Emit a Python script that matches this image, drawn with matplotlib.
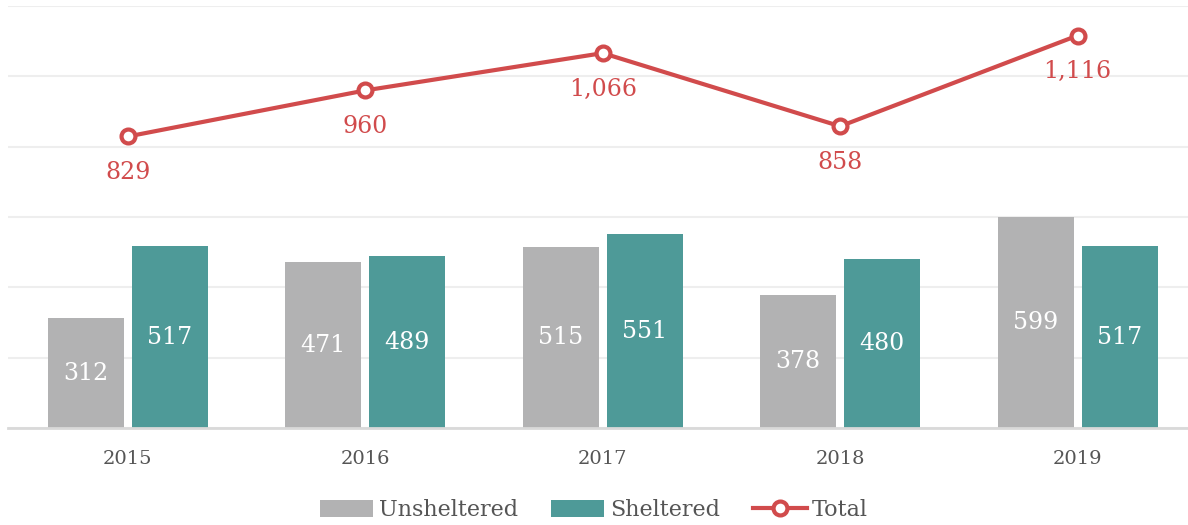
import numpy as np
import matplotlib
matplotlib.use("Agg")
from matplotlib import pyplot as plt

years = ["2015", "2016", "2017", "2018", "2019"]
unsheltered = [312, 471, 515, 378, 599]
sheltered = [517, 489, 551, 480, 517]
total = [829, 960, 1066, 858, 1116]

gray = "#b2b2b3"
teal = "#4e9a98"
red = "#d14b4c"
text_col = "#555555"

plt.rcParams["font.family"] = ["DejaVu Serif"]

fig = plt.figure(figsize=(11.88, 5.25), dpi=100)
ax = fig.add_axes([8 / 1188, 97 / 525, 1180 / 1188, 422 / 525])

x = np.arange(len(years))
w = 0.32
off = 0.177

b1 = ax.bar(x - off, unsheltered, w, color=gray, label="Unsheltered", zorder=2)
b2 = ax.bar(x + off, sheltered, w, color=teal, label="Sheltered", zorder=2)
ln, = ax.plot(x, total, color=red, lw=3, marker="o", ms=10, mfc="white",
              mec=red, mew=3, label="Total", zorder=3)

for xi, v in zip(x, unsheltered):
    ax.text(xi - off, v / 2, f"{v:,}", ha="center", va="center", color="white", fontsize=17)
for xi, v in zip(x, sheltered):
    ax.text(xi + off, v / 2, f"{v:,}", ha="center", va="center", color="white", fontsize=17)
for xi, v in zip(x, total):
    ax.text(xi, v - 103, f"{v:,}", ha="center", va="center", color=red, fontsize=17)

ax.set_xlim(-0.505, 4.465)
ax.set_ylim(0, 1200)
ax.set_yticks(range(0, 1201, 200))
ax.yaxis.grid(True, color="#eeeeee", lw=1.5, zorder=0)
ax.set_axisbelow(True)
ax.tick_params(axis="y", left=False, labelleft=False)
ax.set_xticks(x)
ax.set_xticklabels(years, fontsize=14, color=text_col)
ax.tick_params(axis="x", length=0, pad=16)
for s in ["top", "left", "right"]:
    ax.spines[s].set_visible(False)
ax.spines["bottom"].set_color("#d9d9d9")
ax.spines["bottom"].set_linewidth(2)

fig.legend(handles=[b1, b2, ln], loc="lower center", bbox_to_anchor=(0.5, -0.03),
           ncol=3, frameon=False, fontsize=16, labelcolor=text_col,
           handlelength=2.4, handleheight=0.8, columnspacing=1.5, handletextpad=0.25)

fig.savefig("out.png", dpi=100)
